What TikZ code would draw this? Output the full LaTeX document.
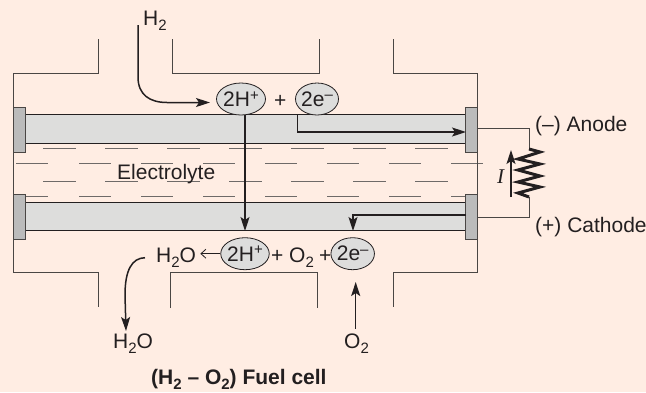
\documentclass[tikz,border=0pt]{standalone}
\usepackage{fontspec}
\setmainfont{Liberation Sans}
\newfontfamily\itserif{Liberation Serif}
\usetikzlibrary{positioning,shapes.geometric,arrows.meta}
\definecolor{paper}{HTML}{FFEDE3}
\definecolor{ink}{HTML}{231F20}
\definecolor{wallgray}{HTML}{4A4644}
\definecolor{dashgray}{HTML}{6E6A68}
\definecolor{platefill}{HTML}{DDDDDC}
\definecolor{capfill}{HTML}{BBBBBB}
\newcommand{\lw}[1]{\raisebox{-5pt}{\fontsize{15}{15}\selectfont #1}}
\newcommand{\hi}[1]{\raisebox{6.5pt}{\fontsize{15}{15}\selectfont #1}}
\newcommand{\ionlbl}[1]{\makebox[0pt]{\raisebox{-1.5pt}{#1}}}
\tikzset{
  wall/.style={draw=wallgray,line width=1pt},
  dashline/.style={draw=dashgray,line width=1pt},
  plate/.style={draw=ink,line width=1pt,fill=platefill,inner sep=0pt,minimum width=441pt,minimum height=28.5pt},
  endcap/.style={draw=wallgray,line width=1pt,fill=capfill,inner sep=0pt,minimum width=11.5pt,minimum height=45pt},
  ion/.style={ellipse,draw=ink,line width=.8pt,fill=platefill,inner sep=0pt,text=ink,minimum height=32pt,font=\fontsize{21}{25}\selectfont},
  lbl/.style={inner sep=0pt,anchor=base west,text=ink,font=\fontsize{21}{25}\selectfont},
  flow/.style={draw=ink,line width=1.5pt,-{Stealth[length=14pt,width=9pt,inset=3pt]}},
}
\begin{document}
\begin{tikzpicture}[x=1pt,y=-1pt]
\path[fill=paper,use as bounding box] (0,0) rectangle (646,392);
% electrolyte
\foreach \n in {0,...,6} {
  \draw[dashline] ({43+62*\n},148.5) -- ++(33,0);
  \draw[dashline] ({43+62*\n},181.7) -- ++(33,0);
  \draw[dashline] ({79+62*\n},163) -- ++(32,0);
  \ifnum\n<6 \draw[dashline] ({79+62*\n},196.5) -- ++(32,0);\fi
}
\draw[dashline] (16,163) -- (48,163);
\draw[dashline] (25,196.5) -- (48,196.5);
\draw[dashline] (451,196.5) -- (466,196.5);
\draw[dashline] (451,163) -- (477,163);
% cell walls
\draw[wall] (98,39) -- (98,73.5) -- (13.5,73.5) -- (13.5,272) -- (98,272) -- (98,307);
\draw[wall] (172,39) -- (172,73.5) -- (319.5,73.5) -- (319.5,39);
\draw[wall] (393.7,39) -- (393.7,73.5) -- (477.5,73.5) -- (477.5,272) -- (393.7,272) -- (393.7,307);
\draw[wall] (170,308) -- (170,272.5) -- (317,272.5) -- (317,308);
% electrodes
\node[plate] (anode) at (245.5,129.2) {};
\node[plate] (cathode) at (245.5,216.6) {};
\node[endcap] (capAL) at (19.6,129.5) {};
\node[endcap] (capAR) at (471.6,129.5) {};
\node[endcap] (capCL) at (19.6,216.5) {};
\node[endcap] (capCR) at (471.6,216.5) {};
% top reaction
\node[ion,minimum width=49pt] (ionH) at (241,99) {\ionlbl{2H\hi{+}}};
\node[ion,minimum width=43pt,on grid,right=76pt of ionH] (ionE) {\ionlbl{2e\hi{–}}};
\node[lbl] (plusA) at (274,107) {+};
% bottom reaction
\node[ion,minimum width=48.5pt] (ionHb) at (245,253.7) {\ionlbl{2H\hi{+}}};
\node[ion,minimum width=43.5pt,on grid,right=107.7pt of ionHb] (ionEb) {\ionlbl{2e\hi{–}}};
\node[lbl] (waterB) at (156,262) {H\lw{2}O};
\node[lbl] (plusB) at (271,262) {+};
\node[lbl] (oxB) at (289,262) {O\lw{2}};
\node[lbl] (plusC) at (319,262) {+};
% labels
\node[lbl] (hyd) at (143,25) {H\lw{2}};
\node[lbl] (water) at (113,348.7) {H\lw{2}O};
\node[lbl] (oxy) at (344,348.7) {O\lw{2}};
\node[lbl] (elec) at (117,179) {Electrolyte};
\node[lbl] (neg) at (535,131) {(–) Anode};
\node[lbl] (pos) at (535,232.7) {(+) Cathode};
\node[lbl,font=\itserif\itshape\fontsize{21}{25}\selectfont] (cur) at (497,183) {I};
\node[lbl,font=\bfseries\fontsize{21}{25}\selectfont] (title) at (151,384) {(H\lw{2} – O\lw{2}) Fuel cell};
% free ends
\coordinate (hydS) at (138,25);
\coordinate (hydT) at (210,102.5);
\coordinate (watS) at (145,257.7);
\coordinate (watT) at (126,331);
\coordinate (oxS) at (355.7,328.7);
\coordinate (oxT) at (355.7,282);
\coordinate (ionS) at (245,115);
\coordinate (ionT) at (245,231);
\coordinate (eS) at (297.7,115);
\coordinate (eT) at (466,132);
\coordinate (eS2) at (466,215);
\coordinate (eT2) at (353,231);
\coordinate (curS) at (511,197);
\coordinate (curT) at (511,150);
\coordinate (resT) at (529,149);
\coordinate (resB) at (529,197);
% flows
\draw[flow] (hydS) -- (138,77) .. controls (138,95) and (150,102.5) .. (167,102.5) -- (hydT);
\draw[flow] (watS) .. controls (132,258) and (125,270) .. (125,295) -- (watT);
\draw[flow] (oxS) -- (oxT);
\draw[flow] (ionS) -- (ionT);
\draw[flow] (eS) |- (eT);
\draw[flow] (eS2) -| (eT2);
\draw[flow,line width=1.2pt] (curS) -- (curT);
\draw[draw=ink,line width=.8pt,-{Straight Barb[length=5pt,width=9pt]}] (ionHb.west) -- ++(-20,0);
% external circuit
\draw[wall] (capAR.east |- 0,128.5) -| (resT);
\draw[wall] (capCR.east |- 0,217) -| (resB);
\draw[draw=ink,line width=3pt,line join=miter] (resT) -- (540,152) -- (518,159) -- (540,164) -- (518,170) -- (540,176) -- (518,182) -- (540,187) -- (518,193) -- (resB);
\end{tikzpicture}
\end{document}
